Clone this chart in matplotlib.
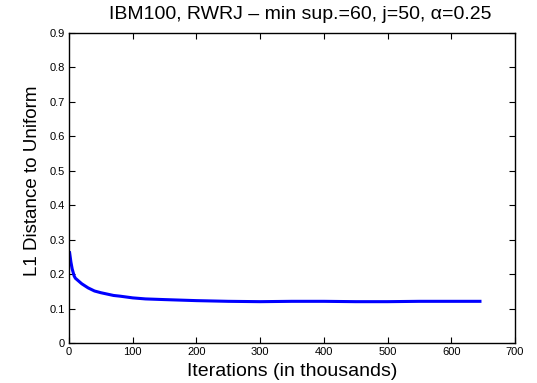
import matplotlib as mpl
mpl.use("Agg")
import matplotlib.pyplot as plt

# iterations (thousands) and L1 distance
iters = [1, 3, 5, 8, 10, 15, 20, 30, 40, 50, 60, 70, 80, 100, 120, 150,
         200, 250, 300, 350, 400, 450, 500, 550, 600, 645]
l1 = [0.262, 0.235, 0.215, 0.195, 0.188, 0.180, 0.172, 0.160, 0.151, 0.146,
      0.142, 0.138, 0.136, 0.131, 0.128, 0.126, 0.123, 0.121, 0.120, 0.121,
      0.121, 0.120, 0.120, 0.121, 0.121, 0.121]

xticks = [0, 100, 200, 300, 400, 500, 600, 700]
yticks = [0, 0.1, 0.2, 0.3, 0.4, 0.5, 0.6, 0.7, 0.8, 0.9]

plt.rcParams["font.family"] = ["Liberation Sans", "DejaVu Sans"]

fig = plt.figure(figsize=(5.37, 3.83), dpi=100)
ax = fig.add_axes([69 / 537, 1 - 343 / 383, 446 / 537, 310 / 383])

ax.plot(iters, l1, color="#0000ff", linewidth=2.2)

ax.set_xlim(0, 700)
ax.set_ylim(0, 0.9)
ax.set_xticks(xticks)
ax.set_yticks(yticks)
ax.set_xticklabels([str(v) for v in xticks])
ax.set_yticklabels(["0"] + [f"{v:g}" for v in yticks[1:]])
ax.tick_params(direction="in", top=True, right=True, length=4, width=0.8,
               labelsize=8, pad=3)
for s in ax.spines.values():
    s.set_linewidth(1.0)

ax.set_title("IBM100, RWRJ \u2013 min sup.=60, j=50, \u03b1=0.25", fontsize=14,
             pad=10, x=0.518)
ax.set_xlabel("Iterations (in thousands)", fontsize=14, labelpad=4)
ax.set_ylabel("L1 Distance to Uniform", fontsize=13.5)
ax.yaxis.set_label_coords(-0.063, 0.523)

fig.savefig("out.png", dpi=100)
